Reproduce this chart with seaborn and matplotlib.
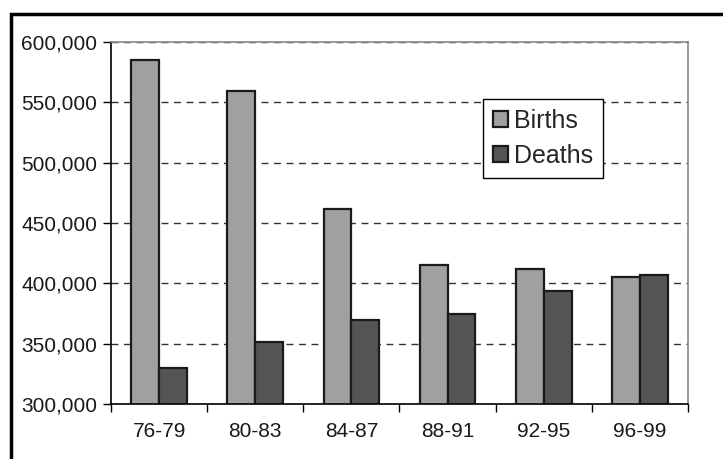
import matplotlib
matplotlib.use("Agg")
import matplotlib.pyplot as plt
import seaborn as sns
import pandas as pd
from matplotlib.ticker import FuncFormatter, FixedLocator
from matplotlib.patches import Rectangle

periods = ["76-79", "80-83", "84-87", "88-91", "92-95", "96-99"]
births = [585000, 559000, 462000, 415000, 412000, 405000]
deaths = [330000, 351000, 370000, 375000, 394000, 407000]
series = ["Births", "Deaths"]

df = pd.DataFrame({
    "period": periods * 2,
    "value": births + deaths,
    "series": [series[0]] * len(periods) + [series[1]] * len(periods),
})

sns.set_style("white")
plt.rcParams["font.family"] = ["Liberation Sans", "DejaVu Sans"]

fig = plt.figure(figsize=(7.23, 4.59), dpi=100)
W, H = 723, 459
ax = fig.add_axes([111 / W, 1 - 404 / H, 577 / W, 362 / H])

sns.barplot(data=df, x="period", y="value", hue="series", order=periods,
            hue_order=series, palette=["#A0A0A0", "#555555"], width=0.58,
            edgecolor="#1a1a1a", linewidth=1.6, ax=ax, saturation=1)

ax.set_ylim(300000, 600000)
ax.set_xlim(-0.5, len(periods) - 0.5)
ax.set_yticks(range(300000, 600001, 50000))
ax.yaxis.set_major_formatter(FuncFormatter(lambda v, p: f"{int(v):,}"))
ax.yaxis.grid(True, linestyle=(0, (5, 4)), color="#333333", linewidth=1)
ax.set_axisbelow(True)
ax.set_xlabel("")
ax.set_ylabel("")

ax.tick_params(axis="x", which="major", length=0, labelsize=15, pad=13)
ax.xaxis.set_minor_locator(FixedLocator([i - 0.5 for i in range(len(periods) + 1)]))
ax.tick_params(axis="x", which="minor", length=6, width=1, color="black", direction="out", bottom=True)
ax.tick_params(axis="y", length=6, width=1, color="black", direction="out", left=True, labelsize=15, pad=4)
for lab in ax.get_xticklabels() + ax.get_yticklabels():
    lab.set_color("#1a1a1a")

for s in ["left", "bottom"]:
    ax.spines[s].set_color("black")
    ax.spines[s].set_linewidth(1.2)
for s in ["top", "right"]:
    ax.spines[s].set_visible(True)
    ax.spines[s].set_color("#888888")
    ax.spines[s].set_linewidth(1.2)

leg = ax.legend(loc="upper left", bbox_to_anchor=(0.644, 0.843), borderaxespad=0,
                fontsize=18, frameon=True, fancybox=False, shadow=False,
                handlelength=0.6, handleheight=0.6, handletextpad=0.25,
                borderpad=0.4, labelspacing=0.45)
leg.get_frame().set_edgecolor("black")
leg.get_frame().set_linewidth(1)
leg.get_frame().set_alpha(1)

fig.patches.append(Rectangle((11 / W, -0.1), 1.2, 1 - 14 / H + 0.1, transform=fig.transFigure,
                             fill=False, edgecolor="black", linewidth=2.5, zorder=10))

fig.savefig("out.png", dpi=100)
